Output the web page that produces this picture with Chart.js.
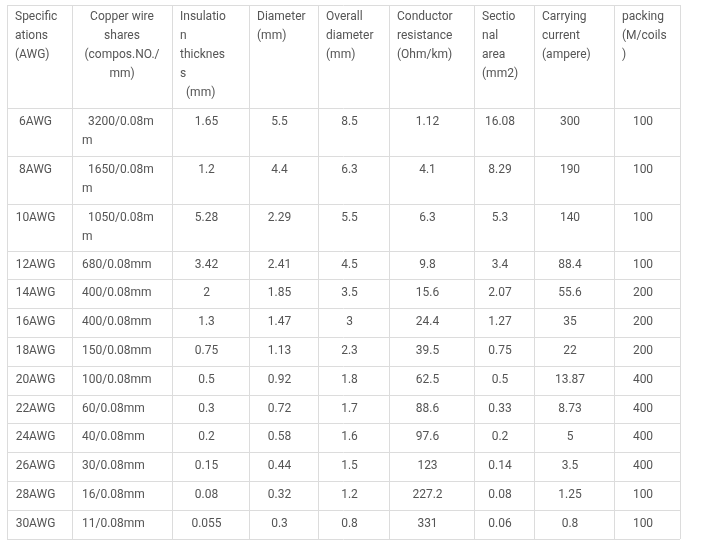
<!DOCTYPE html>
<html><head><meta charset="utf-8">
<script src="https://cdn.jsdelivr.net/npm/chart.js@4"></script>
<style>html,body{margin:0;padding:0;background:#fff}canvas{display:block}</style>
</head><body>
<canvas id="c" width="707" height="549"></canvas>
<script>
const headers = [
 ["Specific","ations","(AWG)"],
 ["Copper wire","shares","(compos.NO./","mm)"],
 ["Insulatio","n","thicknes","s","(mm)"],
 ["Diameter","(mm)"],
 ["Overall","diameter","(mm)"],
 ["Conductor","resistance","(Ohm/km)"],
 ["Sectio","nal","area","(mm2)"],
 ["Carrying","current","(ampere)"],
 ["packing","(M/coils",")"]
];
const specs = ["6AWG","8AWG","10AWG","12AWG","14AWG","16AWG","18AWG","20AWG","22AWG","24AWG","26AWG","28AWG","30AWG"];
const strands = [["3200/0.08m","m"],["1650/0.08m","m"],["1050/0.08m","m"],["680/0.08mm"],["400/0.08mm"],["400/0.08mm"],["150/0.08mm"],["100/0.08mm"],["60/0.08mm"],["40/0.08mm"],["30/0.08mm"],["16/0.08mm"],["11/0.08mm"]];
const insulation = ["1.65","1.2","5.28","3.42","2","1.3","0.75","0.5","0.3","0.2","0.15","0.08","0.055"];
const diameter = ["5.5","4.4","2.29","2.41","1.85","1.47","1.13","0.92","0.72","0.58","0.44","0.32","0.3"];
const overall = ["8.5","6.3","5.5","4.5","3.5","3","2.3","1.8","1.7","1.6","1.5","1.2","0.8"];
const resistance = ["1.12","4.1","6.3","9.8","15.6","24.4","39.5","62.5","88.6","97.6","123","227.2","331"];
const area = ["16.08","8.29","5.3","3.4","2.07","1.27","0.75","0.5","0.33","0.2","0.14","0.08","0.06"];
const current = ["300","190","140","88.4","55.6","35","22","13.87","8.73","5","3.5","1.25","0.8"];
const packing = ["100","100","100","100","200","200","200","400","400","400","400","100","100"];

// layout (pixel-unit scale)
const colX = [7,72,172,249,318,389,474,534,614,680];
const rowY = [5,108,156,204,251,279,308,337,366,395,423,452,481,510,539];
const headerAlign = ["left","center","left","left","left","left","left","left","left"];

const tablePlugin = {
  id:'table',
  afterDraw(chart){
    const ctx = chart.ctx, xs = chart.scales.x, ys = chart.scales.y;
    const X = v=>xs.getPixelForValue(v), Y = v=>ys.getPixelForValue(v);
    ctx.save();
    ctx.strokeStyle = '#dcdcdc'; ctx.lineWidth = 1;
    rowY.forEach(r=>{ctx.beginPath();ctx.moveTo(X(colX[0]),Math.round(Y(r))+0.5);ctx.lineTo(X(colX[colX.length-1]),Math.round(Y(r))+0.5);ctx.stroke();});
    colX.forEach(c=>{ctx.beginPath();ctx.moveTo(Math.round(X(c))+0.5,Y(rowY[0]));ctx.lineTo(Math.round(X(c))+0.5,Y(rowY[rowY.length-1]));ctx.stroke();});
    ctx.fillStyle = '#555'; ctx.font = '12px Roboto, "Open Sans", sans-serif'; ctx.textBaseline='middle';
    headers.forEach((lines,i)=>{
      lines.forEach((t,j)=>{
        let tx;
        if(headerAlign[i]==='center'){ctx.textAlign='center';tx=X((colX[i]+colX[i+1])/2);}
        else {ctx.textAlign='left';tx=X(colX[i]+8);}
        if(i===2 && j===4){tx=X(colX[i]+14);}
        ctx.fillText(t,tx,Y(rowY[0]+12+j*19));
      });
    });
    const cols = [specs,strands,insulation,diameter,overall,resistance,area,current,packing];
    specs.forEach((_,r)=>{
      const top = rowY[r+1];
      cols.forEach((col,ci)=>{
        const v = col[r];
        if(Array.isArray(v)){
          ctx.textAlign='left';
          v.forEach((t,j)=>ctx.fillText(t, X(colX[ci]+(j===0&&v.length>1?16:10)), Y(top+14+j*19)));
        } else {
          ctx.textAlign='center';
          ctx.fillText(v, X((colX[ci]+colX[ci+1])/2 - 4), Y(top+14));
        }
      });
    });
    ctx.restore();
  }
};

new Chart(document.getElementById('c'),{
  type:'scatter',
  data:{datasets:[{data:[],showLine:false}]},
  options:{
    responsive:false, animation:false,
    layout:{padding:0},
    plugins:{legend:{display:false},tooltip:{enabled:false}},
    scales:{
      x:{type:'linear',min:0,max:707,display:false},
      y:{type:'linear',min:0,max:549,reverse:true,display:false}
    }
  },
  plugins:[tablePlugin]
});
</script>
</body></html>
